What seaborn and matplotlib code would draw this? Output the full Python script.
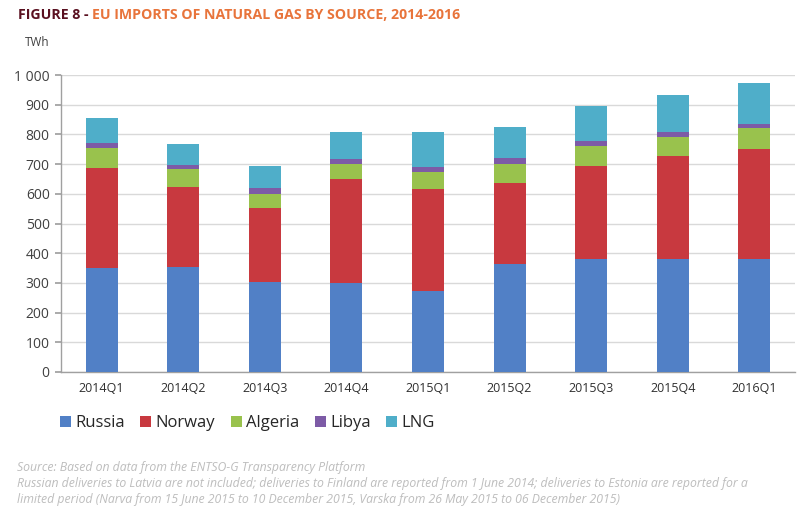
import matplotlib
matplotlib.use("Agg")
import matplotlib.pyplot as plt
import seaborn as sns
import pandas as pd
import numpy as np
from matplotlib.patches import Patch

# ---- data ----
quarters = ["2014Q1", "2014Q2", "2014Q3", "2014Q4", "2015Q1",
            "2015Q2", "2015Q3", "2015Q4", "2016Q1"]
russia = [351, 352, 303, 299, 273, 365, 380, 380, 381]
norway = [337, 270, 249, 350, 344, 272, 314, 347, 370]
algeria = [65, 60, 48, 50, 55, 64, 66, 65, 71]
libya = [17, 15, 18, 18, 18, 21, 19, 15, 13]
lng = [84, 72, 76, 91, 117, 104, 116, 126, 138]
series_names = ["Russia", "Norway", "Algeria", "Libya", "LNG"]
colors = ["#5180C6", "#C8393F", "#99C24D", "#7D5BA6", "#4FAEC9"]
yticks = [0, 100, 200, 300, 400, 500, 600, 700, 800, 900, 1000]
ytick_labels = ["0", "100", "200", "300", "400", "500", "600", "700", "800", "900", "1 000"]

sns.set_theme(style="white")
plt.rcParams["font.family"] = ["Open Sans", "DejaVu Sans"]

fig = plt.figure(figsize=(8, 5.18), dpi=100)
ax = fig.add_axes([0.076, 0.282, 0.918, 0.573])

values = [russia, norway, algeria, libya, lng]
cum = np.cumsum(np.array(values), axis=0)
df = pd.DataFrame({"quarter": quarters})
for name, c in zip(series_names, cum):
    df[name] = c

for name, col in reversed(list(zip(series_names, colors))):
    sns.barplot(data=df, x="quarter", y=name, color=col, width=0.39,
                saturation=1, ax=ax, zorder=3, linewidth=0, edgecolor="none")

ax.set_ylim(0, 1000)
ax.set_xlim(-0.5, len(quarters) - 0.5)
ax.set_yticks(yticks)
ax.set_yticklabels(ytick_labels, fontsize=10, color="#404040")
ax.set_xlabel("")
ax.set_ylabel("")
ax.yaxis.grid(True, color="#D9D9D9", linewidth=1)
ax.set_axisbelow(True)
for s in ["top", "right"]:
    ax.spines[s].set_visible(False)
for s in ["left", "bottom"]:
    ax.spines[s].set_color("#A0A0A0")
    ax.spines[s].set_linewidth(1)

# x tick labels at centers, tick marks at boundaries
ax.set_xticks(range(len(quarters)))
ax.set_xticklabels(quarters, fontsize=9, color="#303030")
ax.tick_params(axis="x", length=0, pad=7)
ax.set_xticks(np.arange(-0.5, len(quarters), 1), minor=True)
ax.tick_params(axis="x", which="minor", length=5, color="#A0A0A0", direction="out")
ax.tick_params(axis="y", length=4, color="#A0A0A0", direction="out", pad=4, left=True)

# title in two colours
t1 = fig.text(0.022, 0.971, "FIGURE 8 - ", fontsize=10.2, fontweight="bold",
              color="#5A1020", va="center", ha="left")
fig.canvas.draw()
bb = t1.get_window_extent(renderer=fig.canvas.get_renderer())
x2 = bb.x1 / fig.bbox.width
fig.text(x2, 0.971, "EU IMPORTS OF NATURAL GAS BY SOURCE, 2014-2016", fontsize=10.2,
         fontweight="bold", color="#E8743B", va="center", ha="left")

fig.text(0.031, 0.918, "TWh", fontsize=8.5, color="#404040", va="center", ha="left")

handles = [Patch(facecolor=c, edgecolor="none") for c in colors]
fig.legend(handles, series_names, loc="center left", bbox_to_anchor=(0.075, 0.183),
           ncol=5, frameon=False, fontsize=12, handlelength=0.65, handleheight=0.65,
           handletextpad=0.25, columnspacing=0.95, borderaxespad=0, borderpad=0)

foot = ("Source: Based on data from the ENTSO-G Transparency Platform\n"
        "Russian deliveries to Latvia are not included; deliveries to Finland are reported from 1 June 2014; deliveries to Estonia are reported for a\n"
        "limited period (Narva from 15 June 2015 to 10 December 2015, Varska from 26 May 2015 to 06 December 2015)")
fig.text(0.021, 0.11, foot, fontsize=8.8, style="italic", color="#BDBDBD",
         va="top", ha="left", linespacing=1.3)

fig.savefig("out.png", dpi=100, facecolor="white")
